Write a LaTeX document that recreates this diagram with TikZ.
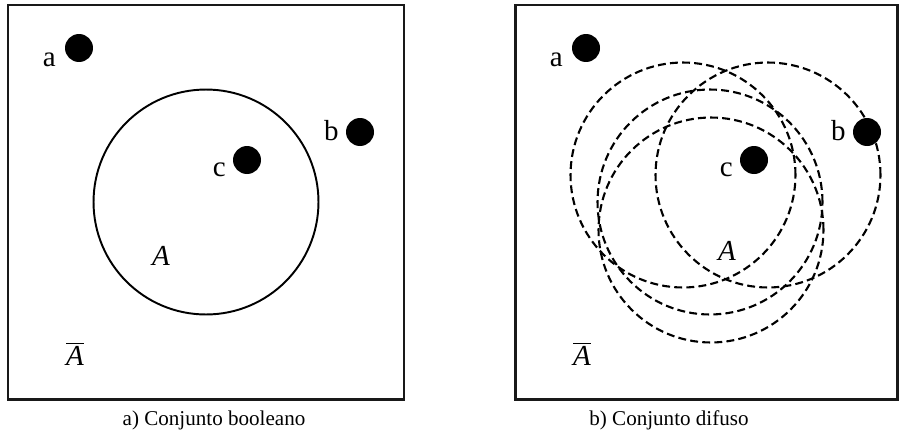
\documentclass[tikz,border=0pt]{standalone}
\usepackage{fontspec}
\setmainfont{Liberation Serif}
\usetikzlibrary{positioning}

\begin{document}
\begin{tikzpicture}[x=0.02cm, y=-0.02cm,
    frame/.style={draw=black!90, line width=1.7pt},
    dot/.style={circle, fill=black, minimum size=0.56cm, inner sep=0pt},
    lbl/.style={font=\fontsize{16.5}{18}\selectfont, inner sep=0pt, anchor=base east},
    setlbl/.style={font=\fontsize{16.5}{18}\selectfont\itshape, inner sep=0pt, anchor=base},
    caption/.style={font=\fontsize{12}{14}\selectfont, inner sep=0pt, anchor=base},
    crisp/.style={draw, line width=1.1pt},
    fuzzy/.style={draw, line width=1.2pt, dash pattern=on 4.5pt off 2.4pt},
  ]
    \useasboundingbox (0,0) rectangle (899,433);

    % both panels: frame, points a, b, c, complement and caption
    \foreach \pan/\xl/\xr/\xoff/\capx/\captxt in {%
      a/8/404/0/214/{a) Conjunto booleano},
      b/515/897/507/669/{b) Conjunto difuso}}{
      \draw[frame] (\xl,5) rectangle (\xr,399);
      \node[dot] (\pan-a) at (79+\xoff,48) {};
      \node[dot] (\pan-b) at (360+\xoff,132) {};
      \node[dot] (\pan-c) at (247+\xoff,160) {};
      \node[lbl] (\pan-la) at (56+\xoff,66) {a};
      \node[lbl] (\pan-lb) at (339+\xoff,140) {b};
      \node[lbl] (\pan-lc) at (226+\xoff,176) {c};
      \node[setlbl] (\pan-nota) at (75+\xoff,365) {$\overline{\mbox{\itshape A}}$};
      \node[caption] (\pan-cap) at (\capx,425) {\captxt};
    }

    % a) crisp set
    \draw[crisp] (206,202) circle[radius=2.25cm];
    \node[setlbl] (a-set) at (161,265) {A};

    % b) fuzzy set: several possible boundaries
    \foreach \cx/\cy in {683/175, 768/175, 710/202, 711/230}{
      \draw[fuzzy] (\cx,\cy) circle[radius=2.25cm];
    }
    \node[setlbl] (b-set) at (727,260) {A};
\end{tikzpicture}
\end{document}
